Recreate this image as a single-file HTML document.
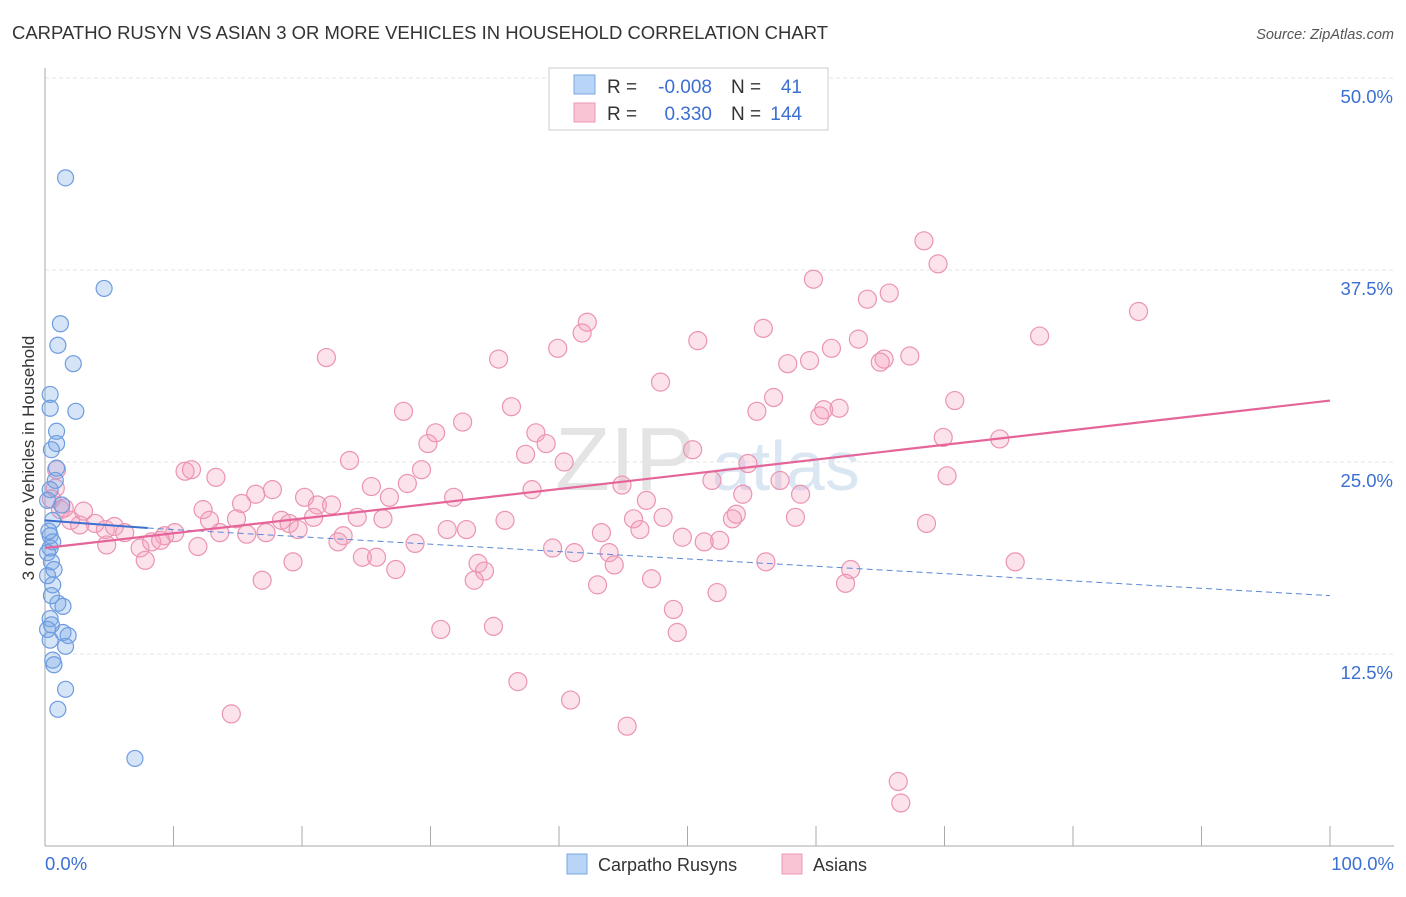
<!DOCTYPE html>
<html><head><meta charset="utf-8"><style>
body{margin:0;background:#fff;font-family:"Liberation Sans",sans-serif}
svg text{font-family:"Liberation Sans",sans-serif}
</style></head><body>
<svg id="c" width="1406" height="892">
<text x="12" y="39" font-size="18" fill="#333" textLength="816" lengthAdjust="spacingAndGlyphs">CARPATHO RUSYN VS ASIAN 3 OR MORE VEHICLES IN HOUSEHOLD CORRELATION CHART</text>
<text x="1394" y="39" font-size="14.5" fill="#555" text-anchor="end" font-style="italic">Source: ZipAtlas.com</text>
<text x="34" y="458" font-size="17" fill="#333" text-anchor="middle" transform="rotate(-90 34 458)">3 or more Vehicles in Household</text>
<text x="555" y="490" font-size="90" fill="#e4e4e4" font-family="Liberation Serif">ZIP</text>
<text x="712" y="490" font-size="70" fill="#dbe6f3">atlas</text>
<g id="grid"></g><g id="marks"></g><g id="trend"></g>
<g>
<rect x="549" y="68" width="279" height="62" fill="#fff" stroke="#ccc"/>
<rect x="574" y="75" width="21" height="19" fill="#b8d4f6" stroke="#7aa7e3"/>
<rect x="574" y="103" width="21" height="19" fill="#f9c4d4" stroke="#ec98b4"/>
<text x="607" y="93" font-size="19" fill="#333">R =</text>
<text x="712" y="93" font-size="19" fill="#3b6fd1" text-anchor="end">-0.008</text>
<text x="731" y="93" font-size="19" fill="#333">N =</text>
<text x="802" y="93" font-size="19" fill="#3b6fd1" text-anchor="end">41</text>
<text x="607" y="120" font-size="19" fill="#333">R =</text>
<text x="712" y="120" font-size="19" fill="#3b6fd1" text-anchor="end">0.330</text>
<text x="731" y="120" font-size="19" fill="#333">N =</text>
<text x="802" y="120" font-size="19" fill="#3b6fd1" text-anchor="end">144</text>
</g>
<g>
<rect x="567" y="854" width="20" height="20" fill="#b8d4f6" stroke="#7aa7e3"/>
<text x="598" y="871" font-size="18" fill="#333">Carpatho Rusyns</text>
<rect x="782" y="854" width="20" height="20" fill="#f9c4d4" stroke="#ec98b4"/>
<text x="813" y="871" font-size="18" fill="#333">Asians</text>
</g>
</svg>
<script>
const yTicks=[12.5,25,37.5,50];
const yTickLabels=["12.5%","25.0%","37.5%","50.0%"];
const xTickLabels=["0.0%","100.0%"];
const blueX=[1.6,4.6,1.2,1.0,2.2,0.4,0.4,2.4,0.9,0.9,0.5,0.9,0.8,0.4,1.3,0.6,0.4,0.6,0.4,0.2,0.5,0.7,0.6,1.0,1.4,0.4,0.5,1.4,1.8,0.4,1.6,0.6,0.7,1.6,1.0,7.0,0.2,0.2,0.2,0.5,0.3];
const blueY=[43.5,36.3,34.0,32.6,31.4,29.4,28.5,28.3,27.0,26.2,25.8,24.6,23.8,23.2,22.2,21.2,20.2,19.8,19.4,19.1,18.5,18.0,17.0,15.8,15.6,14.8,14.4,13.9,13.7,13.4,13.0,12.1,11.8,10.2,8.9,5.7,14.1,22.5,17.6,16.3,20.5];
const pinkX=[68.4,69.5,59.8,65.7,64.0,85.1,42.2,41.8,77.4,50.8,55.9,63.3,61.2,39.9,21.9,35.3,67.3,65.3,65.0,57.8,59.5,47.9,56.7,70.8,36.3,27.9,55.4,60.6,61.8,60.3,32.5,30.4,38.2,29.8,39.0,69.9,74.3,50.4,37.4,23.7,40.4,54.7,10.9,11.4,29.3,13.3,70.2,57.2,51.9,28.2,25.4,44.9,37.9,17.7,16.4,20.2,31.8,54.3,58.8,26.8,46.8,15.3,21.2,22.3,12.3,20.9,24.3,26.3,14.9,45.8,48.1,53.8,53.5,58.4,35.8,12.8,18.4,19.0,68.6,46.3,19.7,31.3,32.8,43.3,13.6,15.7,17.2,23.2,10.1,9.3,49.6,52.5,51.3,22.8,28.8,39.5,43.9,41.2,24.7,25.8,56.1,75.5,19.3,33.7,44.3,27.3,34.2,62.7,16.9,33.4,47.2,62.3,43.0,52.3,48.9,34.9,30.8,49.2,36.8,40.9,14.5,45.3,66.4,66.6,0.8,1.2,2.0,2.7,3.9,4.7,5.4,4.8,6.2,7.4,8.3,7.8,9.0,11.9,0.9,0.5,3.0,1.5];
const pinkY=[39.4,37.9,36.9,36.0,35.6,34.8,34.1,33.4,33.2,32.9,33.7,33.0,32.4,32.4,31.8,31.7,31.9,31.7,31.5,31.4,31.6,30.2,29.2,29.0,28.6,28.3,28.3,28.4,28.5,28.0,27.6,26.9,26.9,26.2,26.2,26.6,26.5,25.8,25.5,25.1,25.0,24.9,24.4,24.5,24.5,24.0,24.1,23.8,23.8,23.6,23.4,23.5,23.2,23.2,22.9,22.7,22.7,22.9,22.9,22.7,22.5,22.3,22.2,22.2,21.9,21.4,21.4,21.3,21.3,21.3,21.4,21.6,21.3,21.4,21.2,21.2,21.2,21.0,21.0,20.6,20.6,20.6,20.6,20.4,20.4,20.3,20.4,20.2,20.4,20.2,20.1,19.9,19.8,19.8,19.7,19.4,19.1,19.1,18.8,18.8,18.5,18.5,18.5,18.4,18.3,18.0,17.9,18.0,17.3,17.3,17.4,17.1,17.0,16.5,15.4,14.3,14.1,13.9,10.7,9.5,8.6,7.8,4.2,2.8,23.3,21.9,21.2,20.9,21.0,20.6,20.8,19.6,20.4,19.4,19.8,18.6,19.9,19.5,24.5,22.6,21.8,22.0];
const blueTrend=[[0,21.2],[8,20.7],[100,16.3]];
const pinkTrend=[[0,19.4],[100,29.0]];
const NS="http://www.w3.org/2000/svg";
const X=v=>45+v*12.85, Y=v=>846-v*15.36;
function mk(t,a,p){const e=document.createElementNS(NS,t);for(const k in a)e.setAttribute(k,a[k]);p.appendChild(e);return e;}
const grid=document.getElementById('grid'),marks=document.getElementById('marks'),trend=document.getElementById('trend');
yTicks.forEach((t,i)=>{
 const l=mk('line',{x1:45,x2:1394,y1:Y(t),y2:Y(t),stroke:'#e6e6e6','stroke-dasharray':'4,3'},grid);
 
 
 const tx=mk('text',{x:1393,y:Y(t)+25,'font-size':18.5,fill:'#3b6fd1','text-anchor':'end'},grid);
 tx.textContent=yTickLabels[i];
 
 
});
const ax=mk('line',{x1:45,x2:45,y1:68,y2:846,stroke:'#aaa'},grid);


const bx=mk('line',{x1:45,x2:1394,y1:846,y2:846,stroke:'#aaa'},grid);


for(let i=0;i<=10;i++){
 const t=mk('line',{x1:X(i*10),x2:X(i*10),y1:826,y2:846,stroke:'#aaa'},grid);
 
 
}
[[0,'start',45],[100,'end',1394]].forEach((d,i)=>{
 const tx=mk('text',{x:d[2],y:870,'font-size':18.5,fill:'#3b6fd1','text-anchor':d[1]},grid);
 tx.textContent=xTickLabels[i];
 
 
});
pinkX.forEach((x,i)=>{
 const c=mk('circle',{cx:X(x),cy:Y(pinkY[i]),r:9,fill:'rgba(244,160,188,0.3)',stroke:'#eb94b2','stroke-width':1.2},marks);
 
 
});
blueX.forEach((x,i)=>{
 const c=mk('circle',{cx:X(x),cy:Y(blueY[i]),r:8,fill:'rgba(120,165,230,0.3)',stroke:'#6d9ce0','stroke-width':1.2},marks);
 
 
});
const b1=mk('line',{x1:X(blueTrend[0][0]),y1:Y(blueTrend[0][1]),x2:X(blueTrend[1][0]),y2:Y(blueTrend[1][1]),stroke:'#3a70d0','stroke-width':2},trend);


const b2=mk('line',{x1:X(blueTrend[1][0]),y1:Y(blueTrend[1][1]),x2:X(blueTrend[2][0]),y2:Y(blueTrend[2][1]),stroke:'#5a88d8','stroke-width':1,'stroke-dasharray':'6,4'},trend);


const p1=mk('line',{x1:X(pinkTrend[0][0]),y1:Y(pinkTrend[0][1]),x2:X(pinkTrend[1][0]),y2:Y(pinkTrend[1][1]),stroke:'#e5659a','stroke-width':2.2},trend);


</script>
</body></html>
